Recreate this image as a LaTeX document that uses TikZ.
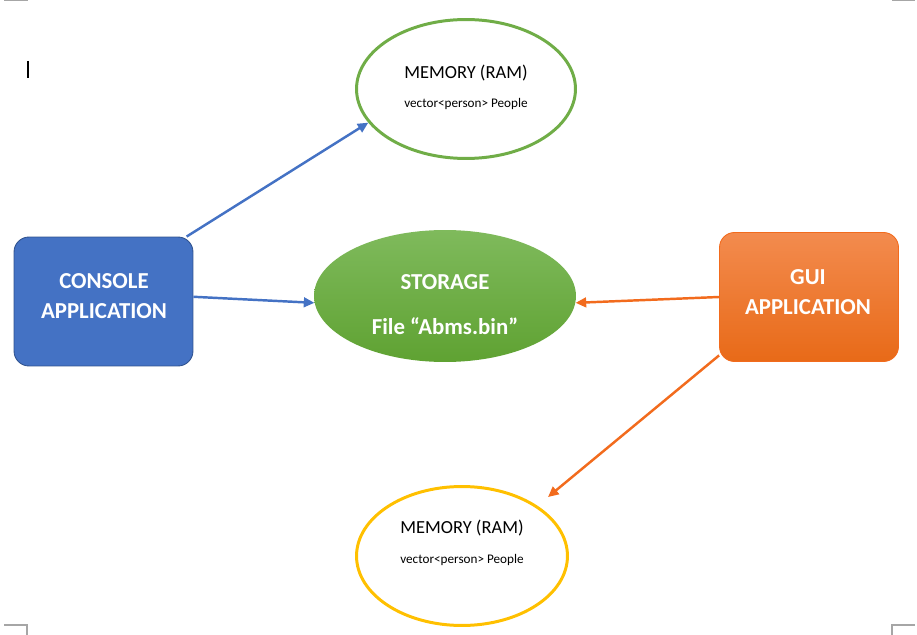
\documentclass[tikz,border=0pt]{standalone}
\usepackage{fontspec}
\setmainfont{Carlito}
\usepackage{xcolor}
\usepackage{tikz}
\usetikzlibrary{positioning}
\usetikzlibrary{shapes.geometric}
\usetikzlibrary{arrows.meta}

\definecolor{ramgreen}{HTML}{70AD47}
\definecolor{ramyellow}{HTML}{FFC000}
\definecolor{appblue}{HTML}{4472C4}
\definecolor{appblueline}{HTML}{2F528F}
\definecolor{guiorange}{HTML}{F26B1D}
\definecolor{guitop}{HTML}{F38B4E}
\definecolor{guibottom}{HTML}{E86A18}
\definecolor{storetop}{HTML}{7FBA5C}
\definecolor{storebottom}{HTML}{5FA232}
\definecolor{markgrey}{HTML}{A6A6A6}

\begin{document}
\begin{tikzpicture}
  [
    x=0.02cm, y=-0.02cm,
    memory/.style={ellipse, draw, line width=1.7pt, fill=white,
    minimum width=4.38cm, minimum height=2.78cm, inner sep=0pt},
    store/.style={ellipse, top color=storetop, bottom color=storebottom,
    minimum width=5.24cm, minimum height=2.64cm, inner sep=0pt},
    app/.style={rectangle, rounded corners=0.3cm, minimum width=3.58cm,
    minimum height=2.58cm, inner sep=0pt},
    memtitle/.style={font=\fontsize{10.5}{12}\selectfont, text=black},
    memtext/.style={font=\fontsize{7.5}{9}\selectfont, text=black},
    bigtext/.style={font=\fontsize{13}{15}\selectfont\bfseries, text=white},
    ld/.style={line width=1.4pt, -{Triangle[length=6pt,width=5.5pt]}},
    cropmark/.style={draw=markgrey, line width=0.6pt}
  ]
  \useasboundingbox (0,0) rectangle (917,635);

  % page corners and cursor
  \draw [cropmark] (4,0.5) -- (28,0.5);
  \draw [cropmark] (892,0.5) -- (915,0.5);
  \draw [cropmark] (4,625) -- (27,625) -- (27,635);
  \draw [cropmark] (915,625) -- (892,625) -- (892,635);
  \draw [black, line width=0.6pt] (28,61) -- (28,78);

  % shapes
  \node (ramtop) at (466,89)  [memory, draw=ramgreen]  {};
  \node (rambot) at (462,556) [memory, draw=ramyellow, minimum width=4.22cm] {};
  \node (storage) at (445,296) [store] {};
  \node (console) at (103.5,301.5) [app, fill=appblue, draw=appblueline, line width=0.5pt] {};
  \node (gui) at (809,297) [app, top color=guitop, bottom color=guibottom, draw=guiorange, line width=0.5pt] {};
  \coordinate (rambotin) at ([shift={(86,-59)}]rambot.center);

  % texts
  \node (ramtopt) at (466,73)  [memtitle] {MEMORY (RAM)};
  \node (ramtopv) at (466,104) [memtext]  {vector<person> People};
  \node (rambott) at (462,528) [memtitle] {MEMORY (RAM)};
  \node (rambotv) at (462,560) [memtext]  {vector<person> People};
  \node (storaget) at (445,282) [bigtext] {STORAGE};
  \node (storagef) at (445,326) [bigtext] {File “Abms.bin”};
  \node (consolet) at (104,281) [bigtext] {CONSOLE};
  \node (consolea) at (104,311) [bigtext] {APPLICATION};
  \node (guit) at (808,277) [bigtext] {GUI};
  \node (guia) at (808,307) [bigtext] {APPLICATION};

  % connectors
  \draw [ld, appblue]   (console.38) -- (ramtop.199);
  \draw [ld, appblue]   (console.3)  -- (storage.183);
  \draw [ld, guiorange] (gui.180)    -- (storage.-3);
  \draw [ld, guiorange] (gui.213)    -- (rambotin);
\end{tikzpicture}
\end{document}
